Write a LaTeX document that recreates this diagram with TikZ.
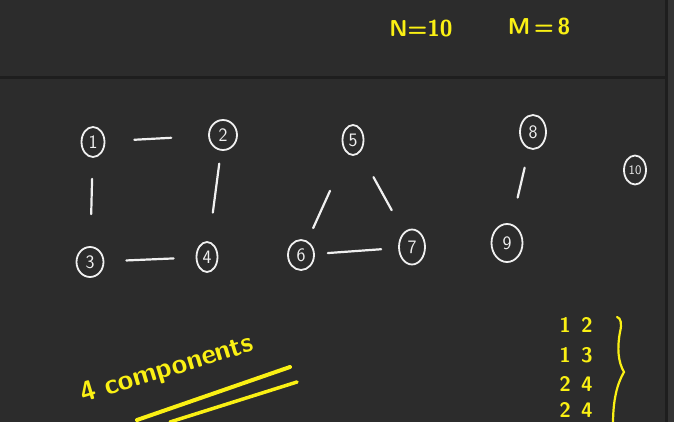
\documentclass[tikz,border=0pt]{standalone}
\usetikzlibrary{shapes.geometric}

\definecolor{board}{RGB}{44,44,44}
\definecolor{rim}{RGB}{30,30,30}
\definecolor{margin}{RGB}{52,52,52}
\definecolor{marker}{RGB}{250,240,20}
\definecolor{chalk}{RGB}{240,240,240}

\tikzset{
  vert/.style={draw=chalk, line width=1.8pt, ellipse, inner sep=0pt,
    minimum width=23pt, minimum height=30pt, text=chalk,
    font=\sffamily\fontsize{19}{19}\selectfont},
  edge/.style={draw=chalk, line width=2.2pt, line cap=round},
  pen/.style={text=marker, font=\sffamily\bfseries\fontsize{23}{25}\selectfont},
  pair/.style={text=marker, font=\sffamily\bfseries\fontsize{21}{23}\selectfont}
}

\begin{document}
\begin{tikzpicture}[x=1pt,y=-1pt]

\useasboundingbox (0,0) rectangle (674,422);
\fill[board] (0,0) rectangle (674,422);
\fill[margin] (668,0) rectangle (674,422);
\fill[rim] (665,0) rectangle (668,422);
\fill[rim] (0,76) rectangle (665,79);

% header
\node[pen] (nval) at (421,29) {N=10};
\node[pen] (mval) at (539,27) {M\,=\,8};

% first component
\node[vert] (v1) at (93,142) {1};
\node[vert, minimum width=28pt] (v2) at (223,135) {2};
\node[vert, minimum width=27pt] (v3) at (90,262) {3};
\node[vert, minimum width=21pt] (v4) at (207,257) {4};

\draw[edge, shorten <=29pt, shorten >=37pt] (v1) -- (v2);
\draw[edge, shorten <=21pt, shorten >=32pt] (v1) -- (v3);
\draw[edge, shorten <=13pt, shorten >=29pt] (v2) -- (v4);
\draw[edge, shorten <=22pt, shorten >=22pt] (v3) -- (v4);

% second component
\node[vert, minimum width=21pt] (v5) at (353,140) {5};
\node[vert, minimum width=26pt] (v6) at (301,255) {6};
\node[vert, minimum width=26pt, minimum height=35pt] (v7) at (412,247) {7};

\draw[edge, shorten <=41pt, shorten >=14pt] (v5) -- (v6);
\draw[edge, shorten <=28pt, shorten >=25pt] (v5) -- (v7);
\draw[edge, shorten <=13pt, shorten >=17pt] (v6) -- (v7);

% third and fourth
\node[vert, minimum width=26pt, minimum height=34pt] (v8) at (533,132) {8};
\node[vert, minimum width=31pt, minimum height=38pt] (v9) at (507,243) {9};
\node[vert, minimum width=22pt, minimum height=29pt,
  font=\sffamily\fontsize{13}{13}\selectfont] (v10) at (635,170) {10};

\draw[edge, shorten <=19pt, shorten >=27pt] (v8) -- (v9);

% answer
\node[text=marker, rotate=17, font=\sffamily\bfseries\fontsize{28}{30}\selectfont]
  (count) at (167,370) {4 components};
\draw[marker, line width=4pt, line cap=round] (137,420) -- (290,367);
\draw[marker, line width=3.5pt, line cap=round] (170,422) -- (297,382);

% edge list
\node[pair] (e1) at (576,325) {1\hspace{10pt}2};
\node[pair] (e2) at (576,355) {1\hspace{10pt}3};
\node[pair] (e3) at (576,384) {2\hspace{10pt}4};
\node[pair] (e4) at (576,410) {2\hspace{10pt}4};

\draw[marker, line width=2.2pt, line cap=round]
  (617,317) .. controls (621,318) and (622,324) .. (620,332)
  .. controls (617,348) and (618,362) .. (624,372)
  .. controls (617,384) and (613,400) .. (613,424);

\end{tikzpicture}
\end{document}
